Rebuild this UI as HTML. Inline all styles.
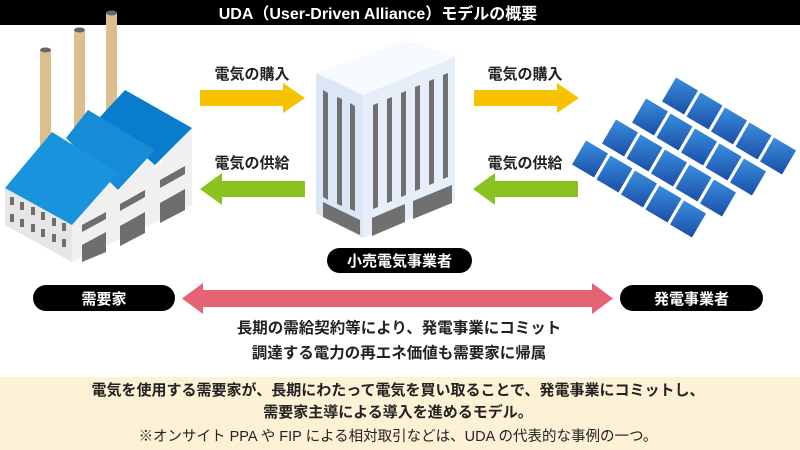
<!DOCTYPE html>
<html><head><meta charset="utf-8"><style>
html,body{margin:0;padding:0;background:#fff;}
svg{display:block}
text{font-family:"Liberation Sans","Noto Sans CJK JP",sans-serif;}
</style></head><body>
<svg width="800" height="450" viewBox="0 0 800 450" xmlns="http://www.w3.org/2000/svg">
<defs>
<linearGradient id="pg" x1="0" y1="0" x2="0" y2="1"><stop offset="0" stop-color="#3a8fe0"/><stop offset="1" stop-color="#1a4ea6"/></linearGradient>
<polygon id="pn" points="-4,-18.5 18,-5.5 4,18.5 -18,5.5" fill="url(#pg)"/>
</defs>
<rect x="0" y="0" width="800" height="25" fill="#000"/>
<text x="378" y="19" text-anchor="middle" fill="#fff" font-size="16" font-weight="bold">UDA（User-Driven Alliance）モデルの概要</text>

<!-- factory -->
<rect x="40" y="50" width="11" height="100" fill="#dcbf8e"/><ellipse cx="45.5" cy="50" rx="5.5" ry="2.5" fill="#666"/>
<rect x="74" y="30" width="11" height="110" fill="#dcbf8e"/><ellipse cx="79.5" cy="30" rx="5.5" ry="2.5" fill="#666"/>
<rect x="106" y="13" width="11" height="110" fill="#dcbf8e"/><ellipse cx="111.5" cy="13" rx="5.5" ry="2.5" fill="#666"/>
<polygon points="5,188 72,225 72,262 5,225" fill="#e6e6e6"/>
<polygon points="72,225 118,173 118,192 155,152 155,168 192,128 192,205 72,262" fill="#f0f0f0"/>
<polygon points="100,117 125,90 192,128 155,165" fill="#0a7ccc"/>
<polygon points="66,138 88,110 155,150 118,190" fill="#168bd6"/>
<polygon points="5,188 52,132 118,173 72,225" fill="#1a93dd"/>
<g fill="#6e6e6e">
<rect x="10" y="197" width="4" height="8"/><rect x="20" y="202" width="4" height="8"/><rect x="31" y="207" width="4" height="8"/><rect x="41" y="212" width="4" height="8"/><rect x="52" y="218" width="4" height="8"/><rect x="62" y="223" width="4" height="8"/>
<rect x="10" y="214" width="4" height="8"/><rect x="20" y="219" width="4" height="8"/><rect x="31" y="224" width="4" height="8"/><rect x="41" y="229" width="4" height="8"/><rect x="52" y="234" width="4" height="8"/><rect x="62" y="239" width="4" height="8"/>
<polygon points="82,225 106,212 106,219 82,232"/><polygon points="120,204 145,190 145,197 120,211"/><polygon points="160,180 185,166 185,174 160,188"/>
<polygon points="82,245 106,232 106,252 82,262"/><polygon points="120,226 145,212 145,233 120,246"/><polygon points="160,203 185,189 185,210 160,223"/>
</g>

<!-- arrows -->
<polygon points="200,90 283,90 283,83 305,98 283,113 283,106 200,106" fill="#f7c300"/>
<polygon points="474,90 557,90 557,83 579,98 557,113 557,106 474,106" fill="#f7c300"/>
<polygon points="305,181 222,181 222,173 200,189 222,205 222,197 305,197" fill="#8cc21f"/>
<polygon points="578,181 495,181 495,173 473,189 495,205 495,197 578,197" fill="#8cc21f"/>
<g font-size="15" font-weight="bold" fill="#222">
<text x="252" y="79" text-anchor="middle">電気の購入</text>
<text x="525" y="79" text-anchor="middle">電気の購入</text>
<text x="252" y="168" text-anchor="middle">電気の供給</text>
<text x="525" y="168" text-anchor="middle">電気の供給</text>
</g>

<!-- building -->
<polygon points="316,73 407,40 455,57 363,95" fill="#f6f9fd"/>
<polygon points="316,73 363,95 363,238 316,213" fill="#dbe7f7"/>
<polygon points="363,95 455,57 455,200 363,238" fill="#e6eef9"/>
<g fill="#707070">
<polygon points="323,90 328,93 328,200 323,197"/><polygon points="337,97 342,99 342,206 337,204"/><polygon points="350,103 355,106 355,211 350,209"/>
<polygon points="373,105 378,103 378,207 373,209"/><polygon points="387,99 392,97 392,201 387,203"/><polygon points="401,93 406,91 406,195 401,197"/><polygon points="415,87 420,85 420,189 415,191"/><polygon points="429,81 434,79 434,183 429,185"/><polygon points="443,75 448,73 448,177 443,179"/>
<polygon points="323,202 360,220 360,235 323,217"/>
<polygon points="372,218 405,204 405,222 372,236"/><polygon points="413,201 452,185 452,203 413,219"/>
</g>

<!-- solar -->
<use href="#pn" x="680" y="96"/><use href="#pn" x="704.5" y="111"/><use href="#pn" x="729" y="126"/><use href="#pn" x="753.5" y="141"/><use href="#pn" x="778" y="156"/>
<use href="#pn" x="650" y="117"/><use href="#pn" x="674.5" y="132"/><use href="#pn" x="699" y="147"/><use href="#pn" x="723.5" y="162"/><use href="#pn" x="748" y="177"/>
<use href="#pn" x="620" y="138"/><use href="#pn" x="644.5" y="153"/><use href="#pn" x="669" y="168"/><use href="#pn" x="693.5" y="183"/><use href="#pn" x="718" y="198"/>
<use href="#pn" x="590" y="159"/><use href="#pn" x="614.5" y="174"/><use href="#pn" x="639" y="189"/><use href="#pn" x="663.5" y="204"/><use href="#pn" x="688" y="219"/>

<!-- pills -->
<rect x="327" y="248" width="145" height="25" rx="12.5" fill="#000"/>
<text x="399.5" y="266" text-anchor="middle" fill="#fff" font-size="15" font-weight="bold">小売電気事業者</text>
<rect x="33" y="285" width="142" height="26" rx="13" fill="#000"/>
<text x="104" y="304" text-anchor="middle" fill="#fff" font-size="15" font-weight="bold">需要家</text>
<rect x="620" y="285" width="143" height="26" rx="13" fill="#000"/>
<text x="691.5" y="304" text-anchor="middle" fill="#fff" font-size="15" font-weight="bold">発電事業者</text>

<polygon points="182,298.5 203,283 203,290 592,290 592,283 613,298.5 592,314 592,307 203,307 203,314" fill="#e66374"/>
<g font-size="15.5" font-weight="bold" fill="#222" text-anchor="middle">
<text x="399" y="333">長期の需給契約等により、発電事業にコミット</text>
<text x="399" y="358">調達する電力の再エネ価値も需要家に帰属</text>
</g>

<rect x="0" y="377" width="800" height="73" fill="#fdf1d6"/>
<g fill="#222" text-anchor="middle">
<text x="398" y="395" font-size="15" font-weight="bold">電気を使用する需要家が、長期にわたって電気を買い取ることで、発電事業にコミットし、</text>
<text x="398" y="417" font-size="15" font-weight="bold">需要家主導による導入を進めるモデル。</text>
<text x="398" y="441" font-size="14.5">※オンサイト PPA や FIP による相対取引などは、UDA の代表的な事例の一つ。</text>
</g>
</svg>
</body></html>
